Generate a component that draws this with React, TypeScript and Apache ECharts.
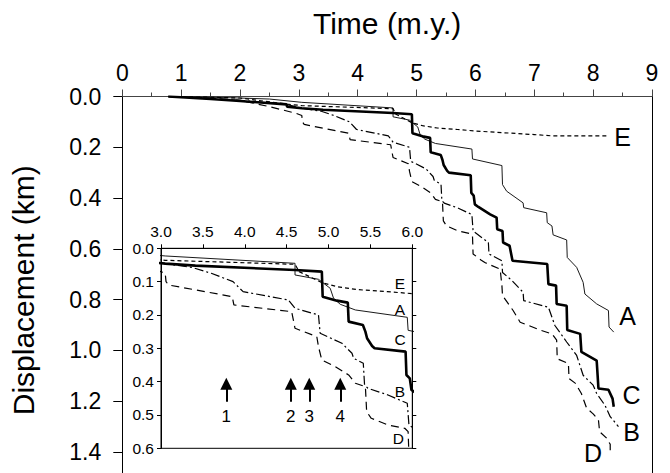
import React, { useEffect, useRef } from "react";
import * as echarts from "echarts";

// ---- data: [time (m.y.), displacement (km)] ----
const dataA: [number, number][] = [
  [0.78, 0], [1.5, 0.003], [2.0, 0.006], [2.5, 0.01], [3.05, 0.023], [4.6, 0.045], [4.6, 0.08],
  [4.88, 0.093], [5.02, 0.12], [5.06, 0.15], [5.14, 0.168], [5.32, 0.185], [5.94, 0.207],
  [5.95, 0.246], [6.45, 0.272], [6.46, 0.347], [6.53, 0.373], [6.81, 0.419], [6.82, 0.438],
  [7.21, 0.458], [7.22, 0.497], [7.3, 0.51], [7.32, 0.545], [7.55, 0.565], [7.56, 0.634],
  [7.72, 0.673], [7.83, 0.732], [7.86, 0.778], [8.06, 0.817], [8.26, 0.843], [8.27, 0.908],
  [8.35, 0.928],
];
const dataB: [number, number][] = [
  [0.78, 0], [1.5, 0.008], [2.0, 0.015], [2.79, 0.031], [3.05, 0.046], [3.38, 0.058],
  [3.6, 0.075], [3.86, 0.1], [3.98, 0.13], [4.52, 0.155], [4.6, 0.18], [4.88, 0.2], [4.9, 0.255],
  [5.16, 0.285], [5.28, 0.315], [5.3, 0.33], [5.415, 0.345], [5.43, 0.41], [5.47, 0.42],
  [5.71, 0.44], [5.94, 0.465], [5.96, 0.53], [6.22, 0.575], [6.23, 0.62], [6.45, 0.647],
  [6.46, 0.693], [6.62, 0.725], [6.81, 0.771], [6.82, 0.804], [7.24, 0.83], [7.35, 0.902],
  [7.55, 0.967], [7.72, 1.02], [7.83, 1.098], [8.0, 1.137], [8.06, 1.17], [8.2, 1.216],
  [8.29, 1.261], [8.43, 1.3],
];
const dataC: [number, number][] = [
  [0.78, 0], [1.5, 0.01], [2.0, 0.018], [2.79, 0.031], [2.8, 0.04], [3.05, 0.046], [3.41, 0.052],
  [4.6, 0.065], [4.92, 0.07], [4.93, 0.145], [5.1, 0.157], [5.23, 0.163], [5.24, 0.22],
  [5.41, 0.23], [5.44, 0.25], [5.46, 0.27], [5.52, 0.293], [5.55, 0.3], [5.92, 0.31],
  [5.93, 0.38], [5.97, 0.39], [5.99, 0.425], [6.05, 0.435], [6.25, 0.464], [6.36, 0.477],
  [6.37, 0.523], [6.46, 0.53], [6.47, 0.575], [6.58, 0.588], [6.63, 0.647], [7.22, 0.66],
  [7.24, 0.739], [7.37, 0.745], [7.38, 0.817], [7.55, 0.824], [7.56, 0.92], [7.78, 0.935],
  [7.8, 1.006], [8.06, 1.04], [8.09, 1.15], [8.26, 1.155], [8.33, 1.19], [8.35, 1.222],
];
const dataD: [number, number][] = [
  [0.78, 0], [1.5, 0.006], [2.0, 0.015], [2.5, 0.04], [2.95, 0.066], [3.05, 0.075], [3.06, 0.1],
  [3.09, 0.11], [3.85, 0.145], [3.87, 0.17], [4.56, 0.19], [4.6, 0.24], [4.86, 0.265],
  [4.88, 0.295], [4.92, 0.335], [5.08, 0.355], [5.24, 0.38], [5.32, 0.405], [5.44, 0.415],
  [5.455, 0.49], [5.51, 0.51], [5.71, 0.53], [5.91, 0.54], [5.95, 0.55], [5.96, 0.62],
  [6.1, 0.645], [6.16, 0.654], [6.42, 0.68], [6.45, 0.745], [6.46, 0.784], [6.64, 0.843],
  [6.76, 0.889], [7.1, 0.92], [7.3, 0.935], [7.38, 0.96], [7.39, 1.033], [7.58, 1.052],
  [7.59, 1.111], [7.7, 1.13], [7.8, 1.17], [7.89, 1.228], [8.0, 1.25], [8.09, 1.274],
  [8.11, 1.32], [8.23, 1.346], [8.29, 1.37], [8.29, 1.405],
];
const dataE: [number, number][] = [
  [0.78, 0], [1.5, 0.003], [2.0, 0.006], [2.8, 0.03], [3.05, 0.036], [4.6, 0.048], [4.65, 0.07],
  [4.92, 0.103], [5.1, 0.115], [5.35, 0.124], [5.7, 0.13], [6.0, 0.136], [7.0, 0.15],
  [7.3, 0.155], [8.25, 0.155],
];

const seriesNames = ["A", "B", "C", "D", "E"];
const seriesData = [dataA, dataB, dataC, dataD, dataE];

// label anchor points (data units) for the curve letters
const mainLabelCoords: [number, number][] = [
  [8.587, 0.863], [8.654, 1.32], [8.654, 1.176], [8.0, 1.405], [8.5, 0.158],
];
const insetLabelCoords: [number, number][] = [
  [5.853, 0.183], [5.853, 0.43], [5.853, 0.273], [5.833, 0.57], [5.853, 0.105],
];

// arrows in the inset
const arrowTimes = [3.78, 4.55, 4.77, 5.14];
const arrowNames = ["1", "2", "3", "4"];
const arrowTail = 0.46;
const arrowHead = 0.4066;

const FONT = "'Liberation Sans', Arial, Helvetica, sans-serif";

const lineStyles: Record<string, any> = {
  A: { color: "#1a1a1a", width: 1, type: "solid" },
  B: { color: "#000", width: 1.2, type: [9, 3, 2, 3] },
  C: { color: "#000", width: 2.6, type: "solid" },
  D: { color: "#000", width: 1.2, type: [8, 5] },
  E: { color: "#000", width: 1.2, type: [4, 3] },
};

const fmt1 = (v: number) => v.toFixed(1);

export default function App() {
  const ref = useRef<HTMLDivElement>(null);

  useEffect(() => {
    if (!ref.current) return;
    const chart = echarts.init(ref.current, null, { renderer: "svg" });

    const series: any[] = [];
    seriesNames.forEach((name, i) => {
      series.push({
        name,
        type: "line",
        xAxisIndex: 0,
        yAxisIndex: 0,
        data: seriesData[i],
        showSymbol: false,
        symbol: "none",
        lineStyle: lineStyles[name],
        z: 3,
        markPoint: {
          silent: true,
          symbol: "circle",
          symbolSize: 1,
          itemStyle: { color: "rgba(0,0,0,0)" },
          label: {
            show: true,
            position: "inside",
            formatter: "{b}",
            fontSize: 25,
            color: "#000",
            fontFamily: FONT,
          },
          data: [{ name, coord: mainLabelCoords[i] }],
        },
      });
      const inset: any = {
        name: name + "-inset",
        type: "line",
        xAxisIndex: 1,
        yAxisIndex: 2,
        data: seriesData[i],
        showSymbol: false,
        symbol: "none",
        clip: true,
        lineStyle: lineStyles[name],
        z: 5,
        markPoint: {
          silent: true,
          symbol: "circle",
          symbolSize: 1,
          itemStyle: { color: "rgba(0,0,0,0)" },
          label: {
            show: true,
            position: "inside",
            formatter: "{b}",
            fontSize: 15.5,
            color: "#000",
            fontFamily: FONT,
          },
          data: [{ name, coord: insetLabelCoords[i] }],
        },
      };
      if (name === "A") {
        inset.markLine = {
          silent: true,
          symbol: ["none", "triangle"],
          symbolSize: 12,
          lineStyle: { type: "solid", width: 2, color: "#000" },
          itemStyle: { color: "#000" },
          label: {
            show: true,
            position: "start",
            formatter: "{b}",
            fontSize: 17,
            color: "#000",
            fontFamily: FONT,
            distance: 6,
          },
          data: arrowTimes.map((t, k) => [
            { name: arrowNames[k], coord: [t, arrowTail] },
            { coord: [t, arrowHead] },
          ]),
        };
      }
      series.push(inset);
    });

    chart.setOption({
      animation: false,
      backgroundColor: "#fff",
      textStyle: { fontFamily: FONT },
      grid: [
        { left: 122.3, top: 96.5, right: 18, bottom: -2, show: false },
        {
          left: 161,
          top: 248.3,
          width: 251.3,
          height: 200,
          show: true,
          backgroundColor: "#fff",
          borderColor: "#000",
          borderWidth: 1,
          z: 4,
        },
      ],
      xAxis: [
        {
          gridIndex: 0,
          type: "value",
          position: "top",
          min: 0,
          max: 9,
          interval: 1,
          axisLine: { show: true, onZero: false, lineStyle: { color: "#444", width: 1 } },
          axisTick: { show: true, inside: false, length: 7, lineStyle: { color: "#444" } },
          minorTick: { show: true, splitNumber: 2, length: 4, lineStyle: { color: "#444" } },
          axisLabel: { fontSize: 23, color: "#000", margin: 12, fontFamily: FONT },
          splitLine: { show: false },
          name: "Time (m.y.)",
          nameLocation: "middle",
          nameGap: 58,
          nameTextStyle: { fontSize: 30, color: "#000", fontFamily: FONT },
        },
        {
          gridIndex: 1,
          type: "value",
          position: "top",
          min: 3,
          max: 6,
          interval: 0.5,
          axisLine: { show: true, onZero: false, lineStyle: { color: "#000", width: 1 } },
          axisTick: { show: true, inside: false, length: 4, lineStyle: { color: "#000" } },
          axisLabel: { fontSize: 15.5, color: "#000", margin: 9, fontFamily: FONT, formatter: fmt1 },
          splitLine: { show: false },
          z: 6,
        },
      ],
      yAxis: [
        {
          gridIndex: 0,
          type: "value",
          position: "left",
          inverse: true,
          min: 0,
          max: 1.483,
          interval: 0.2,
          axisLine: { show: true, onZero: false, lineStyle: { color: "#000", width: 1 } },
          axisTick: { show: true, inside: false, length: 9, lineStyle: { color: "#000" } },
          axisLabel: {
            fontSize: 23,
            color: "#000",
            margin: 21,
            fontFamily: FONT,
            showMaxLabel: false,
            formatter: fmt1,
          },
          splitLine: { show: false },
          name: "Displacement (km)",
          nameLocation: "middle",
          nameGap: 84,
          nameTextStyle: { fontSize: 30, color: "#000", fontFamily: FONT, padding: [0, 11, 0, 0] },
        },
        {
          gridIndex: 0,
          type: "value",
          position: "right",
          inverse: true,
          min: 0,
          max: 1.483,
          axisLine: { show: true, onZero: false, lineStyle: { color: "#000", width: 1 } },
          axisTick: { show: false },
          axisLabel: { show: false },
          splitLine: { show: false },
        },
        {
          gridIndex: 1,
          type: "value",
          position: "left",
          inverse: true,
          min: 0,
          max: 0.6,
          interval: 0.1,
          axisLine: { show: true, onZero: false, lineStyle: { color: "#000", width: 1 } },
          axisTick: { show: true, inside: false, length: 4, lineStyle: { color: "#000" } },
          axisLabel: { fontSize: 15.5, color: "#000", margin: 7, fontFamily: FONT, formatter: fmt1 },
          splitLine: { show: false },
          z: 6,
        },
        {
          gridIndex: 1,
          type: "value",
          position: "right",
          inverse: true,
          min: 0,
          max: 0.6,
          interval: 0.1,
          axisLine: { show: true, onZero: false, lineStyle: { color: "#000", width: 1 } },
          axisTick: { show: true, inside: false, length: 4, lineStyle: { color: "#000" } },
          axisLabel: { show: false },
          splitLine: { show: false },
          z: 6,
        },
      ],
      series,
    });

    return () => chart.dispose();
  }, []);

  return (
    <div
      ref={ref}
      style={{ position: "absolute", left: 0, top: 0, width: 670, height: 473 }}
    />
  );
}
